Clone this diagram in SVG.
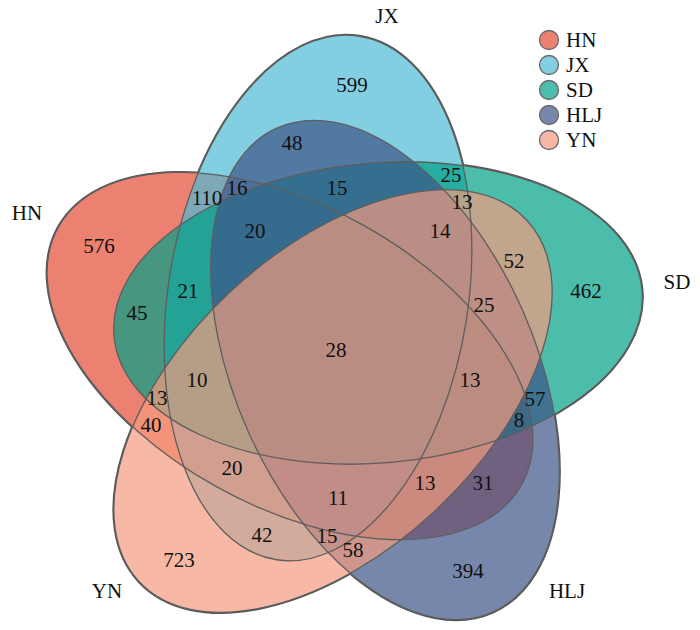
<svg xmlns="http://www.w3.org/2000/svg" xmlns:xlink="http://www.w3.org/1999/xlink" width="700" height="630" viewBox="0 0 700 630">
<style>
.f{fill-opacity:0.7;stroke:none}
.w{fill:#fff;stroke:none}
.t{fill:none;stroke:#555;stroke-width:3}
.o{fill:none;stroke:#5e5e5e;stroke-width:1.3}
.hn{fill:#E64B35}.jx{fill:#4DBBD5}.sd{fill:#00A087}.hlj{fill:#3C5488}.yn{fill:#F39B7F}
text{font-family:"Liberation Serif","Times New Roman",serif;font-size:21px;fill:#111}
.c{text-anchor:middle}
.lg{fill-opacity:0.7;stroke:#6a6a6a;stroke-width:1.3}
</style>
<defs>
<ellipse id="e-hn" cx="290" cy="356" rx="265" ry="150" transform="rotate(29 290 356)"/>
<ellipse id="e-jx" cx="318" cy="298" rx="150" ry="265" transform="rotate(9 318 298)"/>
<ellipse id="e-sd" cx="378" cy="313" rx="265" ry="150" transform="rotate(-5 378 313)"/>
<ellipse id="e-hlj" cx="385" cy="370" rx="150" ry="265" transform="rotate(-24 385 370)"/>
<ellipse id="e-yn" cx="333" cy="401" rx="150" ry="265" transform="rotate(47 333 401)"/>
</defs>
<rect width="700" height="630" fill="#fff"/>
<g id="outer-edge">
<use xlink:href="#e-hn" class="t"/><use xlink:href="#e-jx" class="t"/><use xlink:href="#e-sd" class="t"/><use xlink:href="#e-hlj" class="t"/><use xlink:href="#e-yn" class="t"/>
<use xlink:href="#e-hn" class="w"/><use xlink:href="#e-jx" class="w"/><use xlink:href="#e-sd" class="w"/><use xlink:href="#e-hlj" class="w"/><use xlink:href="#e-yn" class="w"/>
</g>
<g id="HN"><use xlink:href="#e-hn" class="f hn"/><text x="27" y="220" class="c">HN</text></g>
<g id="JX"><use xlink:href="#e-jx" class="f jx"/><text x="387" y="23" class="c">JX</text></g>
<g id="SD"><use xlink:href="#e-sd" class="f sd"/><text x="677" y="289" class="c">SD</text></g>
<g id="HLJ"><use xlink:href="#e-hlj" class="f hlj"/><text x="567" y="598" class="c">HLJ</text></g>
<g id="YN"><use xlink:href="#e-yn" class="f yn"/><text x="107" y="598" class="c">YN</text></g>
<g id="outlines">
<use xlink:href="#e-hn" class="o"/><use xlink:href="#e-jx" class="o"/><use xlink:href="#e-sd" class="o"/><use xlink:href="#e-hlj" class="o"/><use xlink:href="#e-yn" class="o"/>
</g>
<g id="counts">
<text x="352" y="92" class="c">599</text>
<text x="292" y="150" class="c">48</text>
<text x="207" y="205" class="c">110</text>
<text x="237" y="195" class="c">16</text>
<text x="337" y="195" class="c">15</text>
<text x="99" y="253" class="c">576</text>
<text x="255" y="238" class="c">20</text>
<text x="188" y="298" class="c">21</text>
<text x="137" y="320" class="c">45</text>
<text x="451" y="182" class="c">25</text>
<text x="462" y="209" class="c">13</text>
<text x="440" y="238" class="c">14</text>
<text x="514" y="268" class="c">52</text>
<text x="586" y="298" class="c">462</text>
<text x="484" y="312" class="c">25</text>
<text x="197" y="387" class="c">10</text>
<text x="157" y="405" class="c">13</text>
<text x="151" y="432" class="c">40</text>
<text x="232" y="475" class="c">20</text>
<text x="336" y="357" class="c">28</text>
<text x="338" y="505" class="c">11</text>
<text x="262" y="542" class="c">42</text>
<text x="327" y="543" class="c">15</text>
<text x="353" y="557" class="c">58</text>
<text x="179" y="567" class="c">723</text>
<text x="470" y="387" class="c">13</text>
<text x="535" y="406" class="c">57</text>
<text x="519" y="427" class="c">8</text>
<text x="425" y="490" class="c">13</text>
<text x="483" y="490" class="c">31</text>
<text x="468" y="578" class="c">394</text>
</g>
<g id="legend">
<circle cx="549" cy="40" r="9.5" class="lg hn"/><text x="566" y="47">HN</text>
<circle cx="549" cy="65" r="9.5" class="lg jx"/><text x="566" y="72">JX</text>
<circle cx="549" cy="90" r="9.5" class="lg sd"/><text x="566" y="97">SD</text>
<circle cx="549" cy="115" r="9.5" class="lg hlj"/><text x="566" y="122">HLJ</text>
<circle cx="549" cy="140" r="9.5" class="lg yn"/><text x="566" y="147">YN</text>
</g>
</svg>
